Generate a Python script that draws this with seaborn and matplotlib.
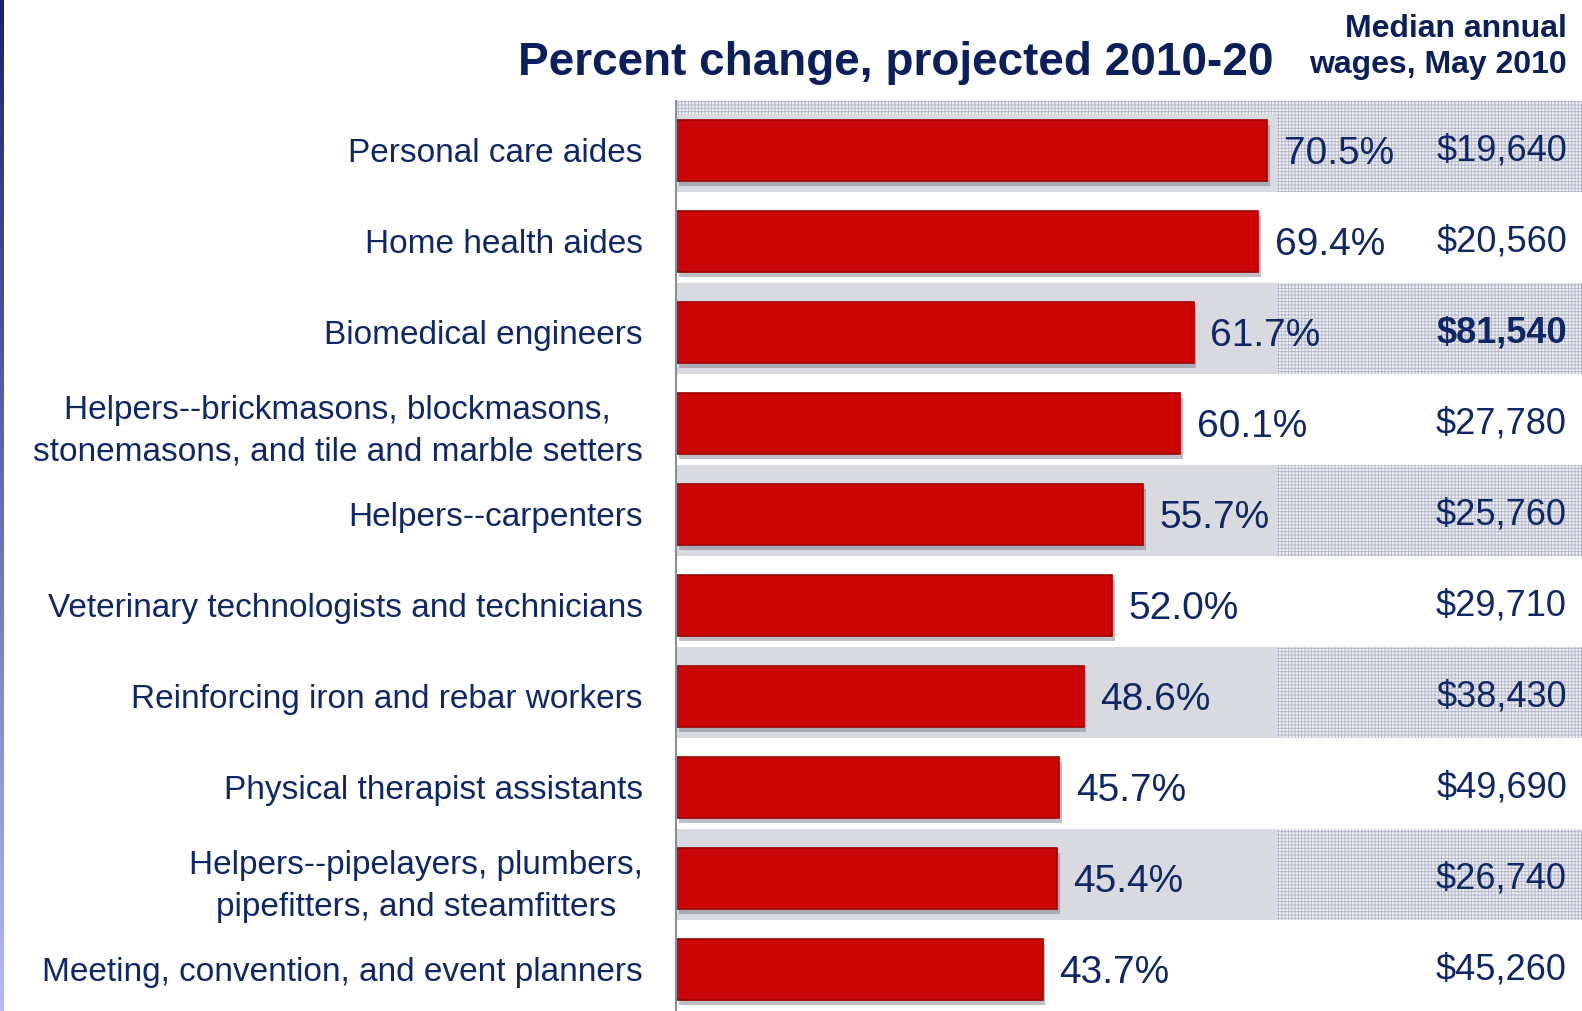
import matplotlib
matplotlib.use('Agg')
import matplotlib.pyplot as plt
import matplotlib.patheffects as pe
import matplotlib.transforms as mtransforms
from matplotlib.patches import Rectangle
import numpy as np
import seaborn as sns

# data
occupations = [
    'Personal care aides',
    'Home health aides',
    'Biomedical engineers',
    'Helpers--brickmasons, blockmasons,\nstonemasons, and tile and marble setters',
    'Helpers--carpenters',
    'Veterinary technologists and technicians',
    'Reinforcing iron and rebar workers',
    'Physical therapist assistants',
    'Helpers--pipelayers, plumbers,\npipefitters, and steamfitters',
    'Meeting, convention, and event planners',
]
pct_change = [70.5, 69.4, 61.7, 60.1, 55.7, 52.0, 48.6, 45.7, 45.4, 43.7]
wages = ['$19,640', '$20,560', '$81,540', '$27,780', '$25,760',
         '$29,710', '$38,430', '$49,690', '$26,740', '$45,260']
bold_wage = 'Biomedical engineers'

navy = '#0f2766'
bar_red = '#cc0606'
band_gray = '#d9dadf'

sns.set_style('white')
plt.rcParams['font.family'] = ['Liberation Sans', 'DejaVu Sans']
plt.rcParams['hatch.linewidth'] = 0.6

fig = plt.figure(figsize=(15.82, 10.11), dpi=100)
ax = fig.add_axes([676 / 1582, 0, 906 / 1582, 910 / 1011])

sns.barplot(x=pct_change, y=occupations, orient='h', color=bar_red,
            width=0.67, saturation=1, edgecolor='#9c0000', linewidth=1.2, ax=ax)

ax.set_xlim(0, 108)
ax.set_ylim(len(occupations) - 0.5, -0.5)

# shaded bands on alternate rows, dotted over the wage column
for i in range(0, len(occupations), 2):
    ax.axhspan(i - 0.5, i + 0.5, color=band_gray, lw=0, zorder=0)
    ax.add_patch(Rectangle((71.7, i - 0.5), 108 - 71.7, 1, facecolor='#eef0f5',
                           edgecolor='#b0b2c6', hatch='+++++', lw=0, zorder=0.5))
ax.add_patch(Rectangle((0, -0.5), 108, 0.14, facecolor='#eef0f5',
                       edgecolor='#b0b2c6', hatch='+++++', lw=0, zorder=0.5))

for p in ax.patches[:len(occupations)]:
    p.set_zorder(2)
    p.set_y(p.get_y() + 0.04)
    p.set_path_effects([pe.SimplePatchShadow(offset=(2, -4), shadow_rgbFace='#707080', alpha=0.45),
                        pe.Normal()])

# percent labels next to bars
for i, v in enumerate(pct_change):
    ax.annotate(f'{v:.1f}%', xy=(v, i + 0.08), xytext=(12, 0), textcoords='offset points',
                ha='left', va='center', fontsize=28, color=navy, zorder=3)

# wage column
trans = mtransforms.blended_transform_factory(ax.transAxes, ax.transData)
for i, (occ, w) in enumerate(zip(occupations, wages)):
    ax.text(0.9834, i + 0.05, w, transform=trans, ha='right', va='center',
            fontsize=26, color=navy, zorder=3,
            fontweight='bold' if occ == bold_wage else 'normal')

# axes styling
for s in ['top', 'right', 'bottom']:
    ax.spines[s].set_visible(False)
ax.spines['left'].set_color('#8a8ca6')
ax.spines['left'].set_linewidth(1.5)
ax.spines['left'].set_zorder(4)
ax.set_xticks([])
ax.set_xlabel('')
ax.set_ylabel('')
ax.set_yticks(np.arange(len(occupations)) + 0.035, occupations)
ax.tick_params(axis='y', length=0, pad=24, labelsize=24, labelcolor=navy)
for lab in ax.get_yticklabels():
    lab.set_multialignment('center')
    lab.set_linespacing(1.45)

# titles
fig.text(1274 / 1582, 1 - 63 / 1011, 'Percent change, projected 2010-20', ha='right', va='center',
         fontsize=33, fontweight='bold', color='#0a1f5c')
fig.text(1567 / 1582, 1 - 47 / 1011, 'Median annual\nwages, May 2010', ha='right', va='center',
         fontsize=23, fontweight='bold', color='#0a1f5c', linespacing=1.22)

# left edge gradient stripe
sax = fig.add_axes([0, 0, 4 / 1582, 1])
grad = np.linspace(0, 1, 256).reshape(-1, 1)
cmap = matplotlib.colors.LinearSegmentedColormap.from_list('stripe', ['#1e2368', '#b6baf0'])
sax.imshow(grad, aspect='auto', cmap=cmap)
sax.axis('off')

fig.savefig('out.png', dpi=100)
